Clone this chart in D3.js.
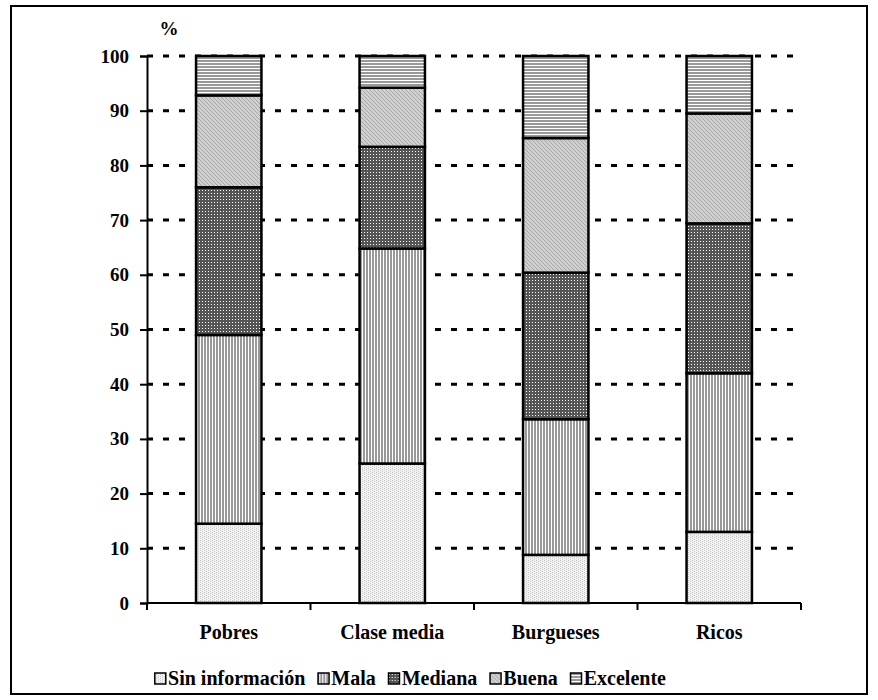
<!DOCTYPE html>
<html>
<head>
<meta charset="utf-8">
<script src="https://d3js.org/d3.v7.min.js"></script>
<style>
    body { margin: 0; background: #fff; }
</style>
</head>
<body>
<div id="chart"></div>
<script>
// categories and series (percent of each group)
const groups = ["Pobres", "Clase media", "Burgueses", "Ricos"];
const series = ["Sin información", "Mala", "Mediana", "Buena", "Excelente"];
const sinInfo   = [14.5, 25.5, 8.8, 13.0];
const mala      = [34.5, 39.3, 24.8, 29.0];
const mediana   = [27.0, 18.6, 26.8, 27.4];
const buena     = [16.8, 10.8, 24.6, 20.1];
const excelente = [7.2, 5.8, 15.0, 10.5];
const yTicks = [0, 10, 20, 30, 40, 50, 60, 70, 80, 90, 100];

const W = 878, H = 700;
const margin = { top: 56, right: 77, bottom: 97, left: 147 };
const FONT = "'Liberation Serif', Tinos, 'DejaVu Serif', serif";

const svg = d3.select("#chart").append("svg")
    .attr("width", W).attr("height", H);

function styleText(sel, size) {
    sel.style("font-family", FONT).style("font-weight", "bold")
        .style("font-size", (size || 19) + "px").attr("fill", "#000");
}

// patterns for the fills
const defs = svg.append("defs");
function pat(id, size, draw) {
    const p = defs.append("pattern").attr("id", id)
        .attr("patternUnits", "userSpaceOnUse")
        .attr("width", size).attr("height", size);
    draw(p);
}
pat("p0", 4, p => {
    p.append("rect").attr("width", 4).attr("height", 4).attr("fill", "#f2f2f2");
    p.append("rect").attr("x", 0).attr("y", 0).attr("width", 1).attr("height", 1).attr("fill", "#c4c4c4");
    p.append("rect").attr("x", 2).attr("y", 1).attr("width", 1).attr("height", 1).attr("fill", "#c4c4c4");
    p.append("rect").attr("x", 0).attr("y", 2).attr("width", 1).attr("height", 1).attr("fill", "#d0d0d0");
    p.append("rect").attr("x", 2).attr("y", 3).attr("width", 1).attr("height", 1).attr("fill", "#d0d0d0");
});
pat("p1", 3, p => {
    p.append("rect").attr("width", 3).attr("height", 3).attr("fill", "#fff");
    p.append("rect").attr("width", 2).attr("height", 3).attr("fill", "#999");
});
pat("p2", 3, p => {
    p.append("rect").attr("width", 3).attr("height", 3).attr("fill", "#555");
    p.append("rect").attr("x", 1).attr("y", 1).attr("width", 1).attr("height", 1).attr("fill", "#fff");
});
pat("p3", 4, p => {
    p.append("rect").attr("width", 4).attr("height", 4).attr("fill", "#cfcfcf");
    p.append("path").attr("d", "M0,0 L4,4 M-1,3 L1,5 M3,-1 L5,1")
        .attr("stroke", "#a8a8a8").attr("stroke-width", 1);
});
pat("p4", 3, p => {
    p.append("rect").attr("width", 3).attr("height", 3).attr("fill", "#fff");
    p.append("rect").attr("width", 3).attr("height", 2).attr("fill", "#999");
});
const fills = ["url(#p0)", "url(#p1)", "url(#p2)", "url(#p3)", "url(#p4)"];

// outer frame
svg.append("rect")
    .attr("x", 11).attr("y", 6).attr("width", 856).attr("height", 688)
    .attr("fill", "none").attr("stroke", "#000").attr("stroke-width", 2);

const x = d3.scaleBand().domain(groups)
    .range([margin.left, W - margin.right])
    .paddingInner(0.6).paddingOuter(0.3);
const y = d3.scaleLinear().domain([0, 100])
    .range([H - margin.bottom, margin.top]);

// dashed gridlines
svg.append("g").selectAll("line")
    .data(yTicks.filter(d => d > 0))
    .join("line")
    .attr("x1", margin.left).attr("x2", W - margin.right)
    .attr("y1", d => y(d)).attr("y2", d => y(d))
    .attr("stroke", "#000").attr("stroke-width", 3)
    .attr("stroke-dasharray", "6,10");

// stacked data
const rows = groups.map((g, i) => ({
    group: g,
    "Sin información": sinInfo[i], "Mala": mala[i], "Mediana": mediana[i],
    "Buena": buena[i], "Excelente": excelente[i]
}));
const stacked = d3.stack().keys(series)(rows);

svg.append("g").selectAll("g")
    .data(stacked)
    .join("g")
    .attr("fill", (d, i) => fills[i])
    .selectAll("rect")
    .data(d => d)
    .join("rect")
    .attr("x", d => x(d.data.group))
    .attr("width", x.bandwidth())
    .attr("y", d => y(d[1]))
    .attr("height", d => y(d[0]) - y(d[1]))
    .attr("stroke", "#000").attr("stroke-width", 2.5);

// y axis
const yAxis = svg.append("g")
    .attr("transform", `translate(${margin.left},0)`)
    .call(d3.axisLeft(y).tickValues(yTicks).tickSize(7).tickPadding(11));
yAxis.select(".domain").attr("stroke-width", 2);
yAxis.selectAll(".tick line").attr("stroke-width", 2);
yAxis.selectAll("text").call(styleText, 19);

// x axis
const xAxis = svg.append("g")
    .attr("transform", `translate(0,${H - margin.bottom})`)
    .call(d3.axisBottom(x).tickSize(0).tickPadding(22));
xAxis.select(".domain").attr("stroke-width", 2)
    .attr("d", `M${margin.left},0H${W - margin.right}`);
xAxis.selectAll("text").call(styleText, 20);
// category separators
xAxis.append("g").selectAll("line")
    .data(d3.range(groups.length + 1))
    .join("line")
    .attr("x1", i => margin.left + i * (W - margin.left - margin.right) / groups.length)
    .attr("x2", i => margin.left + i * (W - margin.left - margin.right) / groups.length)
    .attr("y1", 0).attr("y2", 7)
    .attr("stroke", "#000").attr("stroke-width", 2);

// unit label
svg.append("text")
    .attr("x", 169).attr("y", 35).attr("text-anchor", "middle")
    .call(styleText, 19).text("%");

// legend
const legend = svg.append("g");
let lx = 0;
series.forEach((s, i) => {
    const item = legend.append("g").attr("transform", `translate(${lx},0)`);
    item.append("rect").attr("x", 0.75).attr("y", -12).attr("width", 11).attr("height", 11)
        .attr("fill", fills[i]).attr("stroke", "#000").attr("stroke-width", 1.5);
    const t = item.append("text")
        .attr("x", 14).attr("y", 0).call(styleText, 20).text(s);
    lx += 14 + t.node().getComputedTextLength() + 12;
});
const legW = lx - 12;
legend.attr("transform", `translate(${410 - legW / 2},685)`);
</script>
</body>
</html>
